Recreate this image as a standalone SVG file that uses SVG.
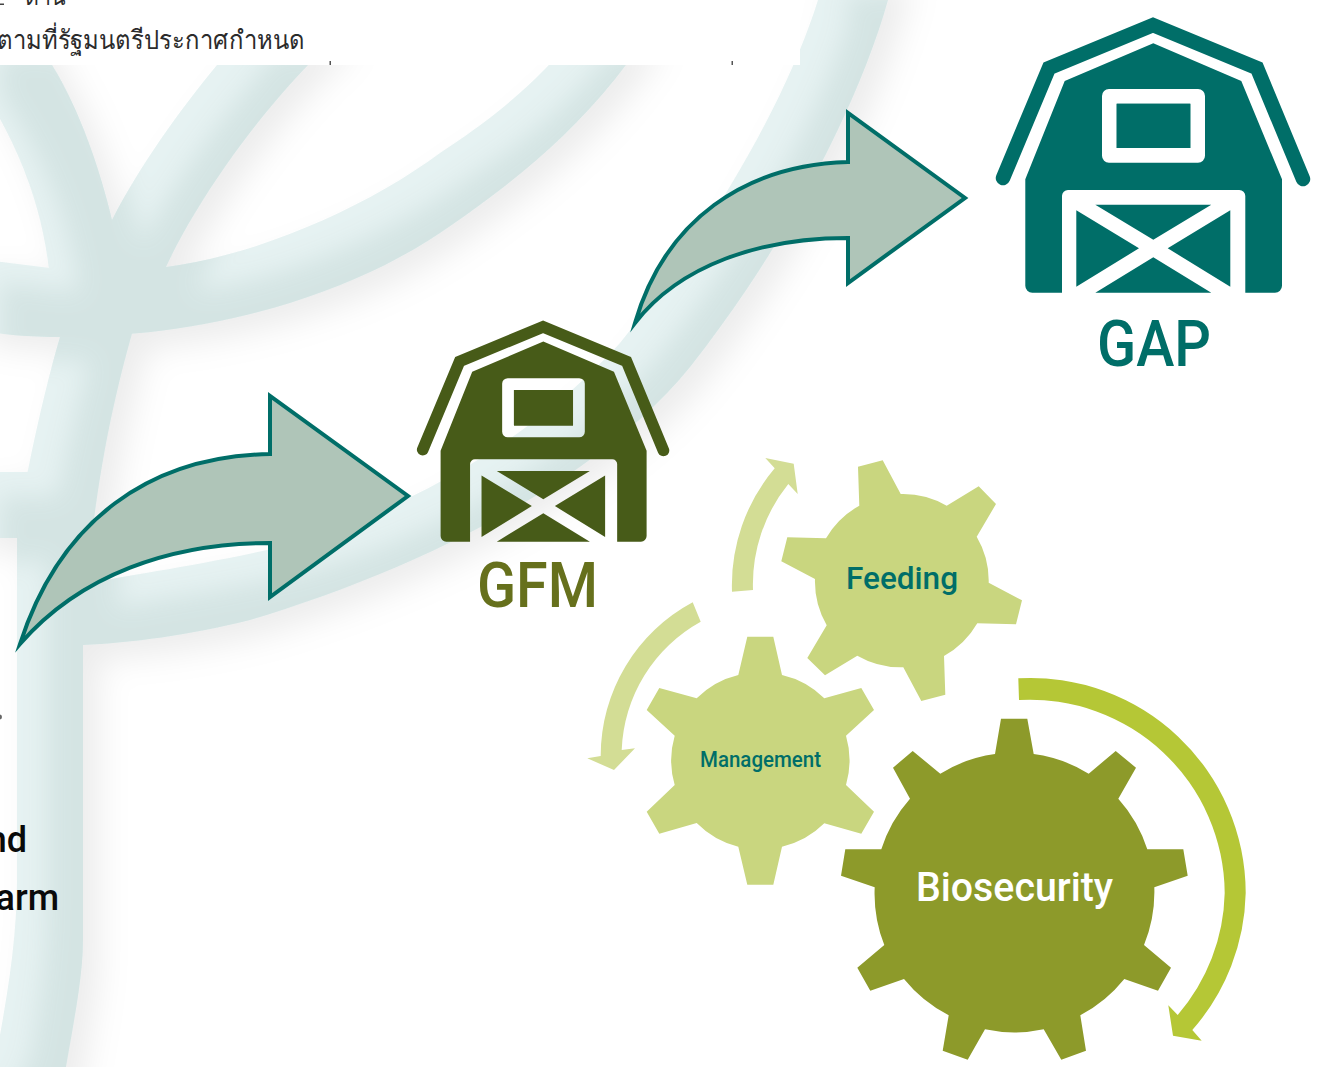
<svg xmlns="http://www.w3.org/2000/svg" width="1319" height="1067" viewBox="0 0 1319 1067">
<style>
.label{font-family:Roboto,"Liberation Sans",sans-serif;font-weight:500;text-anchor:middle}
.thai{font-family:"Noto Sans","DejaVu Sans","Liberation Sans",sans-serif;fill:#2b2b2b;font-size:26px}
.blk{font-family:Roboto,"Liberation Sans",sans-serif;font-weight:500;font-size:36px;fill:#0a0a0a;text-anchor:end}
.arrow{fill:#afc5b8;stroke:#006e68;stroke-width:4;stroke-miterlimit:6}
.pale{fill:#d3dd95}
.gear-l{fill:#c9d67f}
</style>
<defs>
<filter id="wm" x="-10%" y="-10%" width="125%" height="125%" color-interpolation-filters="sRGB">
<feGaussianBlur in="SourceAlpha" stdDeviation="16" result="b"/>
<feOffset in="b" dx="16" dy="14" result="bo"/>
<feFlood flood-color="#000" flood-opacity="0.075"/>
<feComposite in2="bo" operator="in" result="sh"/>
<feOffset in="SourceAlpha" dx="30" dy="24" result="io"/>
<feGaussianBlur in="io" stdDeviation="12" result="ib"/>
<feFlood flood-color="#d4e4e3"/>
<feComposite in2="ib" operator="in" result="dk"/>
<feComposite in="dk" in2="SourceAlpha" operator="in" result="dk2"/>
<feMerge><feMergeNode in="sh"/><feMergeNode in="SourceGraphic"/><feMergeNode in="dk2"/></feMerge>
</filter>
<g id="barn">
<path fill="none" stroke="currentColor" stroke-width="14.5" stroke-linecap="round" stroke-linejoin="miter" d="M1003,178 L1049,68 L1153,25 L1257,68 L1303,179"/>
<path fill="currentColor" fill-rule="evenodd" d="M1153.3,43.3 L1241.3,81 L1282,179.3 V285.7 a7,7 0 0 1 -7,7 H1245.3 V196 a6,6 0 0 0 -6,-6 H1068 a6,6 0 0 0 -6,6 V292.7 H1032.3 a7,7 0 0 1 -7,-7 V179.3 L1064.7,81 Z M1109,89 a7,7 0 0 0 -7,7 V155.7 a7,7 0 0 0 7,7 H1198 a7,7 0 0 0 7,-7 V96 a7,7 0 0 0 -7,-7 Z M1116.7,103.7 H1190.3 V148 H1116.7 Z"/>
<path fill="currentColor" d="M1116.7,103.7 H1190.3 V148 H1116.7 Z M1095.3,204.7 H1211.3 L1153.3,239.7 Z M1076.3,210.3 L1139,248.3 L1076.3,286.7 Z M1230.3,210.3 L1167.7,248.3 L1230.3,286.7 Z M1153.3,257.3 L1211.3,292.7 H1095.3 Z"/>
</g>
</defs>

<g id="watermark" filter="url(#wm)" fill="#e6f2f2">
<path d="M-30,258 L50,268 L166,267 C260,255 370,205 440,153 C490,120 530,90 580,30 L650,30 C590,125 510,185 440,233 C340,300 200,337 62,337 C30,337 0,335 -30,328 Z"/>
<path d="M-30,30 L35,30 L52,65 C80,110 100,170 112,220 L160,280 L50,280 C45,220 25,150 -30,70 Z"/>
<path d="M245,30 L345,30 L308,65 C250,125 195,205 166,267 L120,290 L80,270 L112,220 C140,165 180,110 217,65 Z"/>
<path d="M62,330 L133,330 C113,400 90,500 83,645 L83,940 C83,980 72,1030 62,1090 L-30,1090 L0,1035 C10,980 17,930 17,880 L17,538 C17,520 22,490 28,470 C38,420 50,370 62,330 Z"/>
<path d="M-30,472 L40,472 L40,538 L-30,538 Z"/>
<path d="M818,-30 L898,-30 L888,0 C860,100 790,240 690,367 C590,490 400,575 250,620 C190,635 130,643 83,645 L17,660 L17,600 L90,583 C130,575 200,565 267,550 C420,510 540,430 620,343 C720,220 790,90 818,0 Z"/>
</g>

<rect x="0" y="0" width="800" height="65" fill="#fff"/>
<rect x="329.500" y="61" width="1.500" height="4" fill="#555"/>
<rect x="731.500" y="61" width="1.500" height="4" fill="#555"/>
<rect x="0" y="3.500" width="4" height="1.500" fill="#444"/>
<circle cx="-0.500" cy="717" r="2.500" fill="#666"/>

<text class="thai" x="25" y="5" textLength="41" lengthAdjust="spacingAndGlyphs">ด้าน</text>
<text class="thai" x="-3" y="49" textLength="308" lengthAdjust="spacingAndGlyphs">ตามที่รัฐมนตรีประกาศกำหนด</text>
<text class="blk" x="27" y="851.500">nd</text>
<text class="blk" x="59" y="909.500">arm</text>

<g id="connectors">
<path class="arrow" d="M20,644 C60,520 150,456 270,454 V396 L408,496 L270,597 V543 C170,543 80,575 20,644 Z"/>
<path class="arrow" d="M635,323 C665,220 745,165 848,162 V113 L965,198 L848,283 V238 C760,238 680,265 635,323 Z"/>
<path class="pale" d="M732,591.700 A181,181 0 0 1 774.700,468.300 L765.300,458 L793.700,463.700 L797.700,494 L788.300,484 A160,160 0 0 0 753,590 Z"/>
<path class="pale" d="M692.700,602.300 A174,174 0 0 0 600.700,756 L587.300,758.300 L614,770 L635,748.300 L621.700,750 A153,153 0 0 1 700.700,621.700 Z"/>
<path fill="#b5c736" d="M1018.300,678.300 A215.300,215.300 0 0 1 1245.700,893 A214,214 0 0 1 1192.300,1030 L1201.700,1040.700 L1173,1035.700 L1168.300,1005.300 L1177.700,1015 A193,193 0 0 0 1224.700,893 A194.700,194.700 0 0 0 1019,700 Z"/>
</g>

<g id="gear-feeding">
<path class="gear-l" d="M859.300,505.700 L858,466.700 L882.700,460.300 L900.700,494 A87,87 0 0 1 946.700,505.700 L978.700,486.300 L996,504 L976.700,536.700 A87,87 0 0 1 988.700,582.700 L1022,600.300 L1016,624.300 L977.300,623.300 A87,87 0 0 1 944,656 L945.300,694.700 L921.300,701 L903.300,667.300 A87,87 0 0 1 857.300,655.700 L825,675.300 L807.300,658 L826.700,625.300 A87,87 0 0 1 815,579 L781.300,561.300 L787.300,537.300 L826,538.300 A87,87 0 0 1 859.300,505.700 Z"/>
<text class="label" x="902" y="589" font-size="32" fill="#006e68" textLength="112" lengthAdjust="spacingAndGlyphs">Feeding</text>
</g>
<g id="gear-management">
<path class="gear-l" d="M738.300,675 L747.300,636.700 H773.300 L782,675 A88,88 0 0 1 824.300,698.300 L861.300,688 L874,710 L846,735.700 A88,88 0 0 1 846,785 L874,811.700 L861.300,833.700 L824.300,823.300 A88,88 0 0 1 782,846.700 L773.300,884.700 H747.300 L738.300,846.700 A88,88 0 0 1 696.700,823 L659.300,833.700 L646.700,811.700 L674.700,785 A88,88 0 0 1 674.700,735.700 L646.700,710 L659.300,688 L696.700,698.300 A88,88 0 0 1 738.300,675 Z"/>
<text class="label" x="760.500" y="766.500" font-size="22" fill="#006e68" textLength="121" lengthAdjust="spacingAndGlyphs">Management</text>
</g>
<g id="gear-biosecurity">
<path fill="#8d9a2a" d="M995,754 L1001,718.700 H1027.300 L1033.700,754 A140,140 0 0 1 1088.700,773.700 L1115.700,751 L1136,767.700 L1118.300,798.700 A140,140 0 0 1 1147.300,849.300 H1183.300 L1187.700,875.700 L1154.300,887.300 A140,140 0 0 1 1144,945 L1171,967.700 L1158,990.700 L1124.300,979 A140,140 0 0 1 1080.300,1015.300 L1086,1050.700 L1061.300,1059.700 L1043.700,1029.300 A140,140 0 0 1 985,1029.300 L967.700,1059.700 L942.700,1050.700 L948.700,1015.300 A140,140 0 0 1 904,979 L870.300,990.700 L857.300,967.700 L884.300,945 A140,140 0 0 1 874.700,887.300 L841,875.700 L845.300,849.300 H881.300 A140,140 0 0 1 910,798.700 L893,767.700 L912.700,751 L940.300,773.700 A140,140 0 0 1 995,754 Z"/>
<text class="label" x="1014.500" y="900.500" font-size="40" fill="#fff" textLength="197" lengthAdjust="spacingAndGlyphs">Biosecurity</text>
</g>
<g id="barn-gfm">
<use href="#barn" transform="translate(-382.200,306.800) scale(0.8025)" style="color:#475b18"/>
<text class="label" x="537.500" y="607" font-size="63" fill="#66701c" textLength="121" lengthAdjust="spacingAndGlyphs">GFM</text>
</g>
<g id="barn-gap">
<use href="#barn" style="color:#006e68"/>
<text class="label" x="1154" y="365.500" font-size="64" fill="#006e68" textLength="114" lengthAdjust="spacingAndGlyphs">GAP</text>
</g>
</svg>
